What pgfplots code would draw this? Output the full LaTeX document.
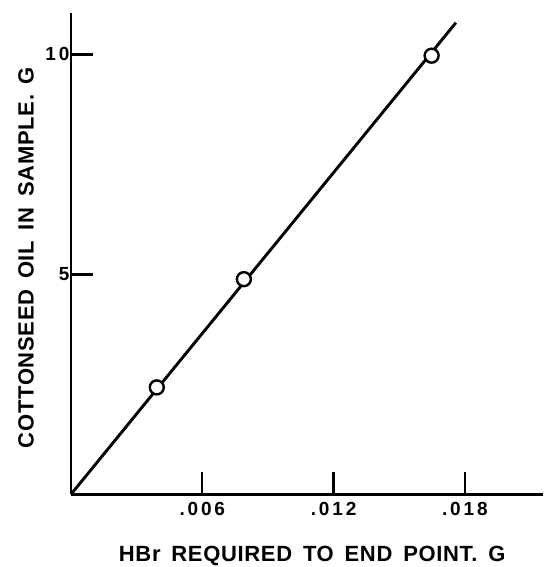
\documentclass[border=0pt]{standalone}
\usepackage{pgfplots}
\pgfplotsset{compat=1.18}
\usepackage{fontspec}
\setmainfont{Liberation Sans}
\newfontfamily\lblfont{Liberation Sans}[LetterSpace=3.0,WordSpace=1.6]
\newfontfamily\tickfont{Liberation Sans}[LetterSpace=15.0]
\begin{document}
\begin{tikzpicture}
\begin{axis}[
  at={(0,0)}, anchor=south west,
  scale only axis,
  width=472pt, height=481.3pt,
  xmin=0, xmax=0.02157,
  ymin=0, ymax=10.94,
  axis x line*=bottom, axis y line*=left,
  axis line style={line width=2.6pt, black},
  scaled x ticks=false,
  xtick={0.006,0.012,0.018},
  xticklabels={.006,.012,.018},
  ytick={5,10},
  yticklabels={5,10},
  tick align=inside,
  major tick length=22pt,
  tick style={line width=2.4pt, black},
  xticklabel style={font=\fontsize{19}{19}\tickfont\bfseries, anchor=north, yshift=-4pt},
  yticklabel style={font=\fontsize{19}{19}\tickfont\bfseries, anchor=east, xshift=2pt},
  xlabel={\lblfont\bfseries HBr REQUIRED TO END POINT. G},
  ylabel={\lblfont\bfseries COTTONSEED OIL IN SAMPLE. G},
  xlabel style={font=\fontsize{22}{22}\selectfont, at={(axis description cs:0.511,-0.128)}, anchor=center},
  ylabel style={font=\fontsize{22}{22}\selectfont, at={(axis description cs:-0.0953,0.492)}, anchor=center, rotate=0},
  clip=false,
]
\addplot[black, line width=2.9pt] coordinates {(0,0) (0.01759,10.72)};
\addplot[only marks, mark=*, mark size=7pt, mark options={fill=white, draw=black, line width=2.4pt}] coordinates {
  (0.00392,2.43)
  (0.00790,4.89)
  (0.01648,9.97)
};
\end{axis}
\pgfresetboundingbox
\path[use as bounding box] (-71pt,-72.7pt) rectangle (472pt,494.3pt);
\end{tikzpicture}
\end{document}
